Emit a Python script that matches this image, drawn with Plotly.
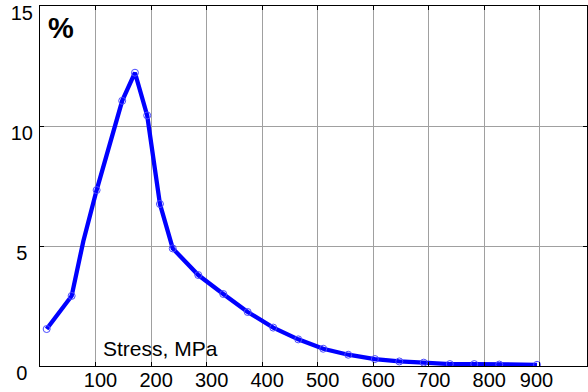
import plotly.graph_objects as go

# Data
stress_curve = [12, 57, 78, 102, 148, 171, 193, 216, 239, 285, 330, 374, 420, 465, 510, 555, 603, 647, 691, 738, 782, 827, 895]
pct_curve = [1.54, 2.92, 5.2, 7.33, 11.05, 12.22, 10.44, 6.75, 4.9, 3.79, 3.0, 2.25, 1.6, 1.11, 0.72, 0.47, 0.29, 0.19, 0.14, 0.08, 0.08, 0.06, 0.05]

stress_pts = [12, 57, 102, 148, 171, 193, 216, 239, 285, 330, 374, 420, 465, 510, 555, 603, 647, 691, 738, 782, 827, 895]
pct_pts = [1.54, 2.92, 7.33, 11.05, 12.22, 10.44, 6.75, 4.9, 3.79, 3.0, 2.25, 1.6, 1.11, 0.72, 0.47, 0.29, 0.19, 0.14, 0.08, 0.08, 0.06, 0.05]

x_ticks = [100, 200, 300, 400, 500, 600, 700, 800, 900]
y_ticks = [0, 5, 10, 15]
x_ticktext = [str(v) + ("\u2008\u2008\u2008" if v == 900 else "") for v in x_ticks]
y_ticktext = [str(v) + ("\u2008" if v < 10 else "") for v in y_ticks]

FONT = "Liberation Sans, Arial, sans-serif"

fig = go.Figure()
fig.add_trace(go.Scatter(x=stress_curve, y=pct_curve, mode="lines",
                         line=dict(color="#0000ff", width=4.3), hoverinfo="skip"))
fig.add_trace(go.Scatter(x=stress_pts, y=pct_pts, mode="markers",
                         marker=dict(symbol="circle-open", size=7, color="#4a4aff",
                                     line=dict(width=1, color="#4a4aff"))))

# white box behind the axis title (covers grid lines)
fig.add_shape(type="rect", xref="paper", yref="paper", x0=0.03, x1=0.405, y0=0.008, y1=0.086,
              fillcolor="white", line_width=0, layer="between")

fig.add_annotation(text="Stress, MPa", xref="paper", yref="paper", x=0.22, y=0.048,
                   xanchor="center", yanchor="middle",
                   showarrow=False, font=dict(family=FONT, size=21, color="black"))
fig.add_annotation(text="<b>%</b>", xref="paper", yref="paper", x=0.038, y=0.94,
                   xanchor="center", yanchor="middle",
                   showarrow=False, font=dict(family=FONT, size=29, color="black"))

fig.update_xaxes(range=[0, 985], tickvals=x_ticks, ticktext=x_ticktext, showgrid=True,
                 gridcolor="#a0a0a0", gridwidth=1,
                 showline=True, linecolor="black", linewidth=1, mirror="ticks",
                 ticks="inside", ticklen=4, tickcolor="black", zeroline=False, automargin=False,
                 ticklabelshift=5, ticklabelstandoff=-4, ticklabeloverflow="allow",
                 tickfont=dict(family=FONT, size=20, color="black"))
fig.update_yaxes(range=[0, 15], tickvals=y_ticks, ticktext=y_ticktext, showgrid=True,
                 gridcolor="#a0a0a0", gridwidth=1,
                 showline=True, linecolor="black", linewidth=1, mirror="ticks",
                 ticks="inside", ticklen=4, tickcolor="black", zeroline=False, automargin=False,
                 ticklabelshift=7, ticklabelstandoff=2, ticklabeloverflow="allow",
                 tickfont=dict(family=FONT, size=20, color="black"))

fig.update_layout(width=588, height=392, margin=dict(l=40, r=1, t=6, b=26),
                  paper_bgcolor="white", plot_bgcolor="white", showlegend=False)

fig.write_html("out.html")
